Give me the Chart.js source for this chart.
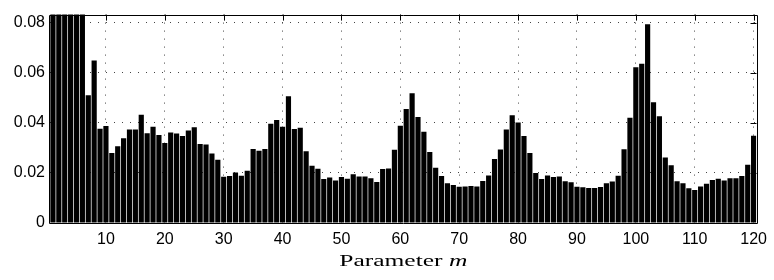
<!DOCTYPE html>
<html>
<head>
<meta charset="utf-8">
<script src="https://cdn.jsdelivr.net/npm/chart.js@4.4.0/dist/chart.umd.min.js"></script>
<style>
  html, body { margin: 0; padding: 0; background: #fff; }
  #wrap { width: 774px; height: 280px; }
</style>
</head>
<body>
<div id="wrap"><canvas id="graphique"></canvas></div>
<script>
// values per parameter m = 1..120 (first six bars run off the top of the plot)
var values = [
  0.160, 0.130, 0.115, 0.105, 0.095, 0.088, 0.0510, 0.0649, 0.0376, 0.0387,
  0.0279, 0.0306, 0.0338, 0.0373, 0.0373, 0.0432, 0.0358, 0.0384, 0.0351, 0.0319,
  0.0361, 0.0357, 0.0347, 0.0369, 0.0382, 0.0315, 0.0313, 0.0277, 0.0253, 0.0185,
  0.0188, 0.0202, 0.0189, 0.0209, 0.0295, 0.0288, 0.0295, 0.0396, 0.0411, 0.0384,
  0.0506, 0.0375, 0.0380, 0.0286, 0.0229, 0.0217, 0.0176, 0.0182, 0.0170, 0.0184,
  0.0177, 0.0195, 0.0186, 0.0186, 0.0179, 0.0164, 0.0216, 0.0218, 0.0292, 0.0388,
  0.0455, 0.0518, 0.0423, 0.0364, 0.0283, 0.0221, 0.0188, 0.0159, 0.0152, 0.0145,
  0.0146, 0.0148, 0.0146, 0.0168, 0.0190, 0.0256, 0.0293, 0.0373, 0.0430, 0.0401,
  0.0347, 0.0279, 0.0200, 0.0176, 0.0190, 0.0184, 0.0186, 0.0167, 0.0163, 0.0145,
  0.0143, 0.0140, 0.0140, 0.0144, 0.0159, 0.0166, 0.0189, 0.0294, 0.0420, 0.0622,
  0.0636, 0.0793, 0.0482, 0.0426, 0.0261, 0.0231, 0.0167, 0.0159, 0.0139, 0.0132,
  0.0146, 0.0157, 0.0172, 0.0177, 0.0170, 0.0179, 0.0179, 0.0188, 0.0233, 0.0348
];
var labels = [];
for (var i = 1; i <= values.length; i++) labels.push(i);

var xTicks = [10, 20, 30, 40, 50, 60, 70, 80, 90, 100, 110, 120];
var yTicks = [0, 0.02, 0.04, 0.06, 0.08];
var yMax = 0.0832;
var xTitle = "Parameter ";
var xTitleVar = "m";

// box round the plot, inward tick marks on top/right, and the axis title
var boxPlugin = {
  id: "box",
  afterDraw: function (chart) {
    var ctx = chart.ctx;
    var a = chart.chartArea;
    var xs = chart.scales.x, ys = chart.scales.y;
    ctx.save();
    ctx.strokeStyle = "#000";
    ctx.lineWidth = 1;
    ctx.beginPath();
    ctx.rect(Math.round(a.left) - 0.5, Math.round(a.top) + 0.5, Math.round(a.right - a.left) + 1, Math.round(a.bottom - a.top));
    ctx.stroke();
    ctx.beginPath();
    xTicks.forEach(function (t) {
      var px = Math.round(xs.getPixelForValue(t - 1)) + 0.5;
      ctx.moveTo(px, a.top);
      ctx.lineTo(px, a.top + 6);
    });
    yTicks.forEach(function (t) {
      var py = Math.round(ys.getPixelForValue(t)) + 0.5;
      ctx.moveTo(a.right, py);
      ctx.lineTo(a.right - 6, py);
    });
    ctx.stroke();

    // axis title, stretched sideways like the reference lettering
    var sx = 1.5;
    ctx.fillStyle = "#000";
    ctx.textBaseline = "middle";
    ctx.font = "17px 'Liberation Serif'";
    var w1 = ctx.measureText(xTitle).width;
    ctx.font = "italic 17px 'Liberation Serif'";
    var w2 = ctx.measureText(xTitleVar).width;
    var cx = (a.left + a.right) / 2;
    ctx.translate(cx, 262);
    ctx.scale(sx, 1);
    var x0 = -(w1 + w2) / 2;
    ctx.font = "17px 'Liberation Serif'";
    ctx.fillText(xTitle, x0, 0);
    ctx.font = "italic 17px 'Liberation Serif'";
    ctx.fillText(xTitleVar, x0 + w1, 0);
    ctx.restore();
  }
};

Chart.defaults.font.family = "'Liberation Sans', Arial, sans-serif";
Chart.defaults.font.size = 16;
Chart.defaults.color = "#000";

new Chart(document.getElementById("graphique"), {
  type: "bar",
  data: {
    labels: labels,
    datasets: [{
      data: values,
      backgroundColor: "#000",
      borderWidth: 0,
      barPercentage: 0.88,
      categoryPercentage: 1.0
    }]
  },
  options: {
    responsive: true,
    maintainAspectRatio: false,
    animation: false,
    layout: { padding: { top: 7, right: 12, left: 0, bottom: 0 } },
    plugins: {
      legend: { display: false },
      tooltip: { enabled: false }
    },
    scales: {
      x: {
        offset: true,
        grid: {
          offset: false,
          drawTicks: false,
          color: function (c) {
            return xTicks.indexOf(c.index + 1) >= 0 ? "#444" : "rgba(0,0,0,0)";
          }
        },
        border: { display: false, dash: [1, 7] },
        ticks: {
          autoSkip: false,
          maxRotation: 0,
          padding: 7,
          callback: function (v, i) {
            return xTicks.indexOf(i + 1) >= 0 ? String(i + 1) : "";
          }
        },
        afterFit: function (s) { s.height = 57; }
      },
      y: {
        min: 0,
        max: yMax,
        grid: { drawTicks: false, color: "#444" },
        border: { display: false, dash: [1, 7] },
        afterBuildTicks: function (s) {
          s.ticks = yTicks.map(function (v) { return { value: v }; });
        },
        ticks: {
          padding: 5,
          callback: function (v) { return v === 0 ? "0" : v.toFixed(2); }
        },
        afterFit: function (s) { s.width = 50; }
      }
    }
  },
  plugins: [boxPlugin]
});
</script>
</body>
</html>
